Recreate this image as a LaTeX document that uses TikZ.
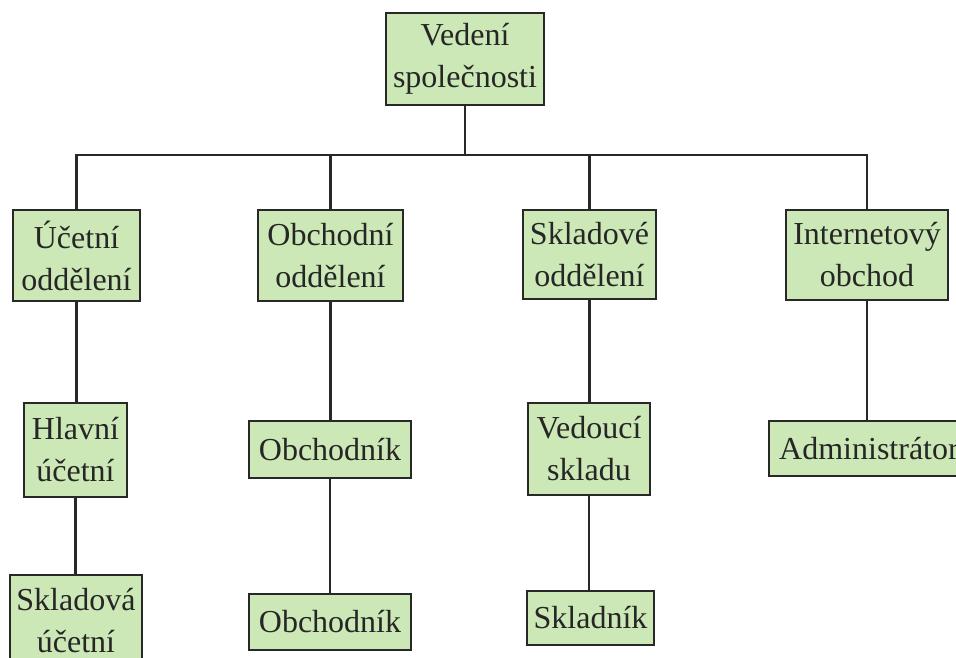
\documentclass[tikz,border=0pt]{standalone}
\usepackage{fontspec}
\setmainfont{Liberation Serif}
\definecolor{boxfill}{RGB}{204,232,182}
\definecolor{linec}{RGB}{40,40,40}
\begin{document}
\begin{tikzpicture}[x=1pt,y=-1pt,
  box/.style={draw=linec, line width=2.6pt, fill=boxfill, inner sep=0pt, align=center,
    text=black!85, font=\fontsize{32}{42}\selectfont, anchor=center},
  conn/.style={draw=linec, line width=2.4pt}]
\useasboundingbox (0,0) rectangle (956,658);
\clip (0,0) rectangle (956,658);
\node[box, minimum width=158pt, minimum height=92pt] (top) at (465,59) {Vedení\\společnosti};
\node[box, minimum width=127pt, minimum height=91pt] (ucet) at (76.5,255.5) {Účetní\\oddělení};
\node[box, minimum width=145pt, minimum height=91pt] (obch) at (330.5,255.5) {Obchodní\\oddělení};
\node[box, minimum width=133pt, minimum height=89pt] (sklad) at (589.5,254.5) {Skladové\\oddělení};
\node[box, minimum width=162pt, minimum height=90pt] (inet) at (867,255) {Internetový\\obchod};
\node[box, minimum width=103pt, minimum height=94pt] (hlav) at (75.5,450) {Hlavní\\účetní};
\node[box, minimum width=162pt, minimum height=57pt] (obchA) at (330,449.5) {Obchodník};
\node[box, minimum width=122pt, minimum height=92pt] (ved) at (589,449) {Vedoucí\\skladu};
\node[box, minimum width=200pt, minimum height=55pt] (admin) at (869,448.5) {Administrátor};
\node[box, minimum width=132pt, minimum height=92pt] (sklu) at (76,621) {Skladová\\účetní};
\node[box, minimum width=162pt, minimum height=56pt] (obchB) at (330,622) {Obchodník};
\node[box, minimum width=127pt, minimum height=54pt] (skladnik) at (590.5,618) {Skladník};
\coordinate (bus) at (465,155);
\draw[conn] (top.south) -- (bus);
\draw[conn] (ucet.north) |- (bus) -| (inet.north);
\draw[conn] (obch.north) -- (obch.north |- bus);
\draw[conn] (sklad.north) -- (sklad.north |- bus);
\draw[conn] (ucet.south) -- (ucet.south |- hlav.north);
\draw[conn] (hlav.south) -- (hlav.south |- sklu.north);
\draw[conn] (obch.south) -- (obch.south |- obchA.north);
\draw[conn] (obchA.south) -- (obchA.south |- obchB.north);
\draw[conn] (sklad.south) -- (sklad.south |- ved.north);
\draw[conn] (ved.south) -- (ved.south |- skladnik.north);
\draw[conn] (inet.south) -- (inet.south |- admin.north);
\end{tikzpicture}
\end{document}
